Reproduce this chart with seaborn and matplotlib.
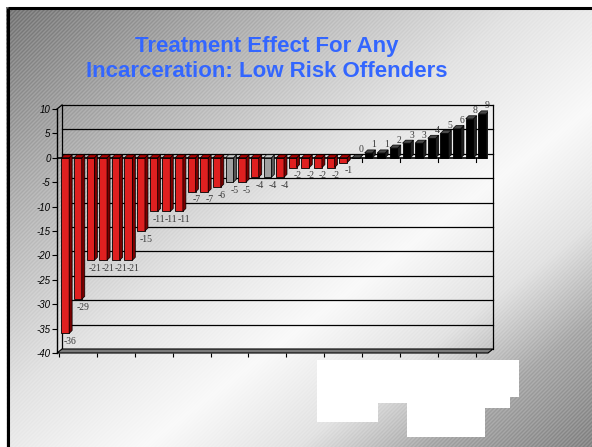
import numpy as np
import pandas as pd
import matplotlib
matplotlib.use("Agg")
import matplotlib.pyplot as plt
import matplotlib.transforms as mtransforms
from matplotlib.patches import Polygon
import seaborn as sns

# ---- data -------------------------------------------------------------
programs = [f"P{i + 1:02d}" for i in range(34)]
effects = [-36, -29, -21, -21, -21, -21, -15, -11, -11, -11, -7, -7, -6,
           -5, -5, -4, -4, -4, -2, -2, -2, -2, -1,
           0, 1, 1, 2, 3, 3, 4, 5, 6, 8, 9]
groups = (["negative"] * 13 + ["insignificant"] + ["negative"] * 2 +
          ["insignificant"] + ["negative"] * 6 + ["non-negative"] * 11)
y_ticks = [-40, -35, -30, -25, -20, -15, -10, -5, 0, 5, 10]
title = "Treatment Effect For Any\nIncarceration: Low Risk Offenders"

face_colors = {"negative": "#FF0000", "insignificant": "#A0A0A0", "non-negative": "#000000"}
side_colors = {"negative": "#7A0000", "insignificant": "#555555", "non-negative": "#202020"}
top_colors = {"negative": "#B00000", "insignificant": "#C8C8C8", "non-negative": "#4A4A4A"}

df = pd.DataFrame({"program": programs, "effect": effects, "group": groups})

plt.rcParams["font.family"] = ["Liberation Sans", "DejaVu Sans"]
plt.rcParams["axes.unicode_minus"] = False

W, H = 592, 447
fig = plt.figure(figsize=(W / 100, H / 100), dpi=100)

# ---- slide background: diagonal grey-white-grey gradient with fine stripes
yy, xx = np.mgrid[0:H, 0:W].astype(float)
u = (xx / W + yy / H) / 2
val = np.interp(u, [0, 0.2, 0.45, 0.62, 0.75, 0.86, 1.0],
                [0.52, 0.70, 0.90, 0.98, 0.90, 0.70, 0.58])
stripes = 0.5 + 0.5 * np.sin(2 * np.pi * (xx + yy) / 4.0)
val = val - 0.22 * (1 - val) * stripes
# white margin outside the frame
val[:7, :] = 1.0
val[:, :6] = 1.0
# blank label boxes beneath the right half of the category axis
for (x0, y0, x1, y1) in [(317, 360, 407, 403), (317, 403, 378, 422),
                         (407, 360, 519, 397), (407, 397, 510, 408),
                         (407, 408, 485, 437)]:
    val[y0:y1, x0:x1] = 1.0
rgb = np.dstack([val, val, val])
bg = fig.add_axes([0, 0, 1, 1], zorder=-5)
bg.imshow(rgb, extent=(0, W, H, 0), interpolation="nearest", aspect="auto")
bg.set_xlim(0, W)
bg.set_ylim(H, 0)
bg.axis("off")
# slide frame (left and top edges)
bg.plot([7.5, 7.5], [7.5, H], color="black", lw=2.2, solid_capstyle="butt")
bg.plot([7.5, W], [7.5, 7.5], color="black", lw=2.2, solid_capstyle="butt")

# ---- title ------------------------------------------------------------
fig.text(267 / W, 1 - 59 / H, title, ha="center", va="center",
         color="#3366FF", fontsize=16, fontweight="bold", linespacing=1.26)

# ---- chart ------------------------------------------------------------
ax = fig.add_axes([57 / W, 1 - 353 / H, 431 / W, 244 / H])
ax.patch.set_alpha(0)

sns.barplot(data=df, x="program", y="effect", hue="group", order=programs,
            palette=face_colors, dodge=False, width=0.62, edgecolor="black",
            linewidth=0.6, legend=False, ax=ax, zorder=3)

xmin, xmax = -0.65, 33.45
ax.set_xlim(xmin, xmax)
ax.set_ylim(-40, 10)

p0 = ax.transData.transform((0, 0))
p1 = ax.transData.transform((1, 1))
ppx, ppy = p1[0] - p0[0], p1[1] - p0[1]

# depth of the back wall and of the bars, in pixels
wall_dx, wall_dy = 5 / ppx, 4 / ppy
bar_dx, bar_dy = 3 / ppx, 3 / ppy

# back wall gridlines and edges
for yv in y_ticks[1:]:
    ax.plot([xmin + wall_dx, xmax + wall_dx], [yv + wall_dy, yv + wall_dy],
            color="black", lw=0.9, zorder=1, clip_on=False)
for xv in (xmin, xmax):
    ax.plot([xv + wall_dx, xv + wall_dx], [-40 + wall_dy, 10 + wall_dy],
            color="black", lw=0.9, zorder=1, clip_on=False)
ax.plot([xmin, xmin + wall_dx], [10, 10 + wall_dy], color="black", lw=0.9,
        zorder=1, clip_on=False)

# floor
floor = Polygon([(xmin, -40), (xmax, -40), (xmax + wall_dx, -40 + wall_dy),
                 (xmin + wall_dx, -40 + wall_dy)], closed=True,
                facecolor="#7A7A7A", edgecolor="black", lw=0.8, zorder=2,
                clip_on=False)
ax.add_patch(floor)

# category axis at zero
ax.axhline(0, color="black", lw=1.2, zorder=2)
cat_ticks = [-0.5 + 3 * k for k in range(12)]
first_up = next(i for i, v in enumerate(effects) if v >= 0)
for t in cat_ticks:
    if t > first_up - 1:
        ax.plot([t, t], [0, -4 / ppy], color="black", lw=0.8, zorder=2)

# side and top faces of the bars
for i, (v, g) in enumerate(zip(effects, groups)):
    x0, x1 = i - 0.31, i + 0.31
    lo, hi = min(0, v), max(0, v)
    side = Polygon([(x1, lo), (x1 + bar_dx, lo + bar_dy), (x1 + bar_dx, hi + bar_dy), (x1, hi)],
                   closed=True, facecolor=side_colors[g], edgecolor="black",
                   lw=0.5, zorder=3.1)
    top = Polygon([(x0, hi), (x0 + bar_dx, hi + bar_dy), (x1 + bar_dx, hi + bar_dy), (x1, hi)],
                  closed=True, facecolor=top_colors[g], edgecolor="black",
                  lw=0.5, zorder=3.1)
    ax.add_patch(side)
    ax.add_patch(top)
    ax.annotate(f"{v}", xy=(i, v), xytext=(5, -8 if v < 0 else 8),
                textcoords="offset pixels", ha="center", va="center",
                fontsize=7, color="#3A3A3A", family="Liberation Serif",
                zorder=5, annotation_clip=False)

# axes styling
for s in ("top", "right", "bottom"):
    ax.spines[s].set_visible(False)
ax.spines["left"].set_linewidth(1.0)
ax.set_yticks(y_ticks)
ax.set_yticklabels([str(t) for t in y_ticks], fontstyle="italic", fontsize=7)
ax.tick_params(axis="y", length=3.6, width=0.8, pad=1, colors="black")
ax.set_xticks(cat_ticks)
ax.set_xticklabels([""] * len(cat_ticks))
ax.tick_params(axis="x", length=3, width=0.8, direction="out")
ax.set_xlabel("")
ax.set_ylabel("")

fig.savefig("out.png", dpi=100)
